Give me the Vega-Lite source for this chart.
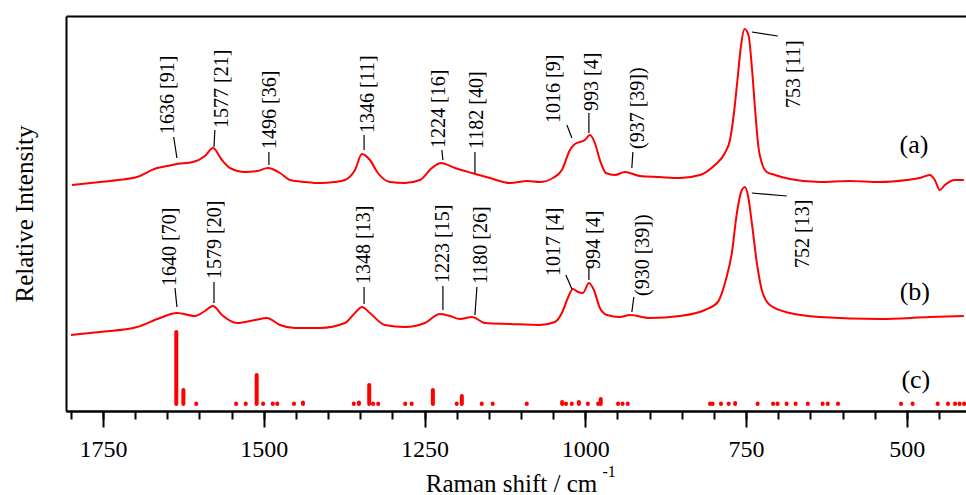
{
  "$schema": "https://vega.github.io/schema/vega-lite/v6.json",
  "width": 900,
  "height": 395,
  "autosize": {"type": "none"},
  "padding": {"left": 66, "top": 16, "right": 0, "bottom": 84},
  "background": "white",
  "config": {
    "view": {"stroke": null},
    "font": "Liberation Serif",
    "axis": {
      "grid": false,
      "domainColor": "black",
      "tickColor": "black",
      "labelColor": "black",
      "titleColor": "black",
      "labelFont": "Liberation Serif",
      "titleFont": "Liberation Serif",
      "titleFontWeight": "normal",
      "domainWidth": 2,
      "tickWidth": 2
    }
  },
  "datasets": {
    "spectra": [
      {"shift": 1798.2, "intensity": 226, "series": "a"},
      {"shift": 1754.7, "intensity": 229, "series": "a"},
      {"shift": 1726.0, "intensity": 231, "series": "a"},
      {"shift": 1697.1, "intensity": 234, "series": "a"},
      {"shift": 1666.0, "intensity": 243, "series": "a"},
      {"shift": 1650.0, "intensity": 245, "series": "a"},
      {"shift": 1634.9, "intensity": 247, "series": "a"},
      {"shift": 1610.1, "intensity": 249, "series": "a"},
      {"shift": 1591.4, "intensity": 255, "series": "a"},
      {"shift": 1579.0, "intensity": 263, "series": "a"},
      {"shift": 1565.0, "intensity": 251, "series": "a"},
      {"shift": 1552.6, "intensity": 243, "series": "a"},
      {"shift": 1529.2, "intensity": 239, "series": "a"},
      {"shift": 1510.0, "intensity": 240, "series": "a"},
      {"shift": 1493.5, "intensity": 243, "series": "a"},
      {"shift": 1474.8, "intensity": 238, "series": "a"},
      {"shift": 1459.3, "intensity": 231, "series": "a"},
      {"shift": 1435.0, "intensity": 229, "series": "a"},
      {"shift": 1412.6, "intensity": 228, "series": "a"},
      {"shift": 1390.0, "intensity": 229, "series": "a"},
      {"shift": 1373.8, "intensity": 231, "series": "a"},
      {"shift": 1358.2, "intensity": 241, "series": "a"},
      {"shift": 1347.3, "intensity": 257, "series": "a"},
      {"shift": 1334.9, "intensity": 251, "series": "a"},
      {"shift": 1322.5, "intensity": 238, "series": "a"},
      {"shift": 1303.8, "intensity": 229, "series": "a"},
      {"shift": 1280.5, "intensity": 228, "series": "a"},
      {"shift": 1257.2, "intensity": 231, "series": "a"},
      {"shift": 1238.5, "intensity": 243, "series": "a"},
      {"shift": 1224.5, "intensity": 248, "series": "a"},
      {"shift": 1202.7, "intensity": 243, "series": "a"},
      {"shift": 1176.3, "intensity": 238, "series": "a"},
      {"shift": 1148.3, "intensity": 233, "series": "a"},
      {"shift": 1117.2, "intensity": 228, "series": "a"},
      {"shift": 1090.0, "intensity": 230, "series": "a"},
      {"shift": 1070.6, "intensity": 229, "series": "a"},
      {"shift": 1050.4, "intensity": 233, "series": "a"},
      {"shift": 1036.4, "intensity": 241, "series": "a"},
      {"shift": 1023.9, "intensity": 261, "series": "a"},
      {"shift": 1016.2, "intensity": 267, "series": "a"},
      {"shift": 1000.6, "intensity": 271, "series": "a"},
      {"shift": 992.9, "intensity": 276, "series": "a"},
      {"shift": 985.1, "intensity": 268, "series": "a"},
      {"shift": 977.3, "intensity": 251, "series": "a"},
      {"shift": 968.0, "intensity": 238, "series": "a"},
      {"shift": 954.0, "intensity": 236, "series": "a"},
      {"shift": 938.4, "intensity": 239, "series": "a"},
      {"shift": 915.1, "intensity": 235, "series": "a"},
      {"shift": 885.0, "intensity": 234, "series": "a"},
      {"shift": 852.9, "intensity": 233, "series": "a"},
      {"shift": 821.8, "intensity": 236, "series": "a"},
      {"shift": 798.5, "intensity": 246, "series": "a"},
      {"shift": 782.9, "intensity": 258, "series": "a"},
      {"shift": 775.0, "intensity": 271, "series": "a"},
      {"shift": 769.6, "intensity": 294, "series": "a"},
      {"shift": 763.4, "intensity": 331, "series": "a"},
      {"shift": 758.1, "intensity": 364, "series": "a"},
      {"shift": 752.5, "intensity": 382, "series": "a"},
      {"shift": 746.3, "intensity": 376, "series": "a"},
      {"shift": 741.0, "intensity": 344, "series": "a"},
      {"shift": 735.9, "intensity": 301, "series": "a"},
      {"shift": 730.8, "intensity": 264, "series": "a"},
      {"shift": 725.5, "intensity": 248, "series": "a"},
      {"shift": 717.7, "intensity": 239, "series": "a"},
      {"shift": 705.2, "intensity": 236, "series": "a"},
      {"shift": 681.9, "intensity": 232, "series": "a"},
      {"shift": 635.3, "intensity": 229, "series": "a"},
      {"shift": 590.0, "intensity": 230, "series": "a"},
      {"shift": 542.0, "intensity": 229, "series": "a"},
      {"shift": 500.0, "intensity": 231, "series": "a"},
      {"shift": 479.8, "intensity": 233, "series": "a"},
      {"shift": 464.3, "intensity": 236, "series": "a"},
      {"shift": 456.5, "intensity": 231, "series": "a"},
      {"shift": 448.7, "intensity": 221, "series": "a"},
      {"shift": 440.9, "intensity": 226, "series": "a"},
      {"shift": 425.4, "intensity": 231, "series": "a"},
      {"shift": 411.4, "intensity": 231, "series": "a"},

      {"shift": 1799.8, "intensity": 76, "series": "b"},
      {"shift": 1754.7, "intensity": 79, "series": "b"},
      {"shift": 1697.1, "intensity": 84, "series": "b"},
      {"shift": 1661.4, "intensity": 93, "series": "b"},
      {"shift": 1634.9, "intensity": 98, "series": "b"},
      {"shift": 1606.9, "intensity": 95, "series": "b"},
      {"shift": 1591.4, "intensity": 100, "series": "b"},
      {"shift": 1579.0, "intensity": 105, "series": "b"},
      {"shift": 1565.0, "intensity": 96, "series": "b"},
      {"shift": 1541.7, "intensity": 88, "series": "b"},
      {"shift": 1513.7, "intensity": 91, "series": "b"},
      {"shift": 1495.0, "intensity": 93, "series": "b"},
      {"shift": 1474.8, "intensity": 86, "series": "b"},
      {"shift": 1451.5, "intensity": 83, "series": "b"},
      {"shift": 1412.6, "intensity": 83, "series": "b"},
      {"shift": 1373.8, "intensity": 88, "series": "b"},
      {"shift": 1358.2, "intensity": 98, "series": "b"},
      {"shift": 1347.3, "intensity": 104, "series": "b"},
      {"shift": 1334.9, "intensity": 98, "series": "b"},
      {"shift": 1311.6, "intensity": 86, "series": "b"},
      {"shift": 1280.5, "intensity": 84, "series": "b"},
      {"shift": 1249.4, "intensity": 88, "series": "b"},
      {"shift": 1226.1, "intensity": 97, "series": "b"},
      {"shift": 1210.5, "intensity": 95, "series": "b"},
      {"shift": 1195.0, "intensity": 92, "series": "b"},
      {"shift": 1176.3, "intensity": 94, "series": "b"},
      {"shift": 1156.1, "intensity": 88, "series": "b"},
      {"shift": 1117.2, "intensity": 87, "series": "b"},
      {"shift": 1070.6, "intensity": 86, "series": "b"},
      {"shift": 1047.3, "intensity": 89, "series": "b"},
      {"shift": 1036.4, "intensity": 98, "series": "b"},
      {"shift": 1027.1, "intensity": 113, "series": "b"},
      {"shift": 1019.3, "intensity": 122, "series": "b"},
      {"shift": 1011.5, "intensity": 119, "series": "b"},
      {"shift": 1003.7, "intensity": 118, "series": "b"},
      {"shift": 994.4, "intensity": 128, "series": "b"},
      {"shift": 986.6, "intensity": 121, "series": "b"},
      {"shift": 977.3, "intensity": 103, "series": "b"},
      {"shift": 966.4, "intensity": 96, "series": "b"},
      {"shift": 946.2, "intensity": 94, "series": "b"},
      {"shift": 930.7, "intensity": 96, "series": "b"},
      {"shift": 899.6, "intensity": 93, "series": "b"},
      {"shift": 852.9, "intensity": 95, "series": "b"},
      {"shift": 814.1, "intensity": 101, "series": "b"},
      {"shift": 793.9, "intensity": 109, "series": "b"},
      {"shift": 781.5, "intensity": 131, "series": "b"},
      {"shift": 772.1, "intensity": 158, "series": "b"},
      {"shift": 764.3, "intensity": 198, "series": "b"},
      {"shift": 756.5, "intensity": 221, "series": "b"},
      {"shift": 751.9, "intensity": 224, "series": "b"},
      {"shift": 747.2, "intensity": 216, "series": "b"},
      {"shift": 741.0, "intensity": 188, "series": "b"},
      {"shift": 733.2, "intensity": 148, "series": "b"},
      {"shift": 725.5, "intensity": 121, "series": "b"},
      {"shift": 713.0, "intensity": 106, "series": "b"},
      {"shift": 681.9, "intensity": 98, "series": "b"},
      {"shift": 635.3, "intensity": 94, "series": "b"},
      {"shift": 542.0, "intensity": 92, "series": "b"},
      {"shift": 464.3, "intensity": 94, "series": "b"},
      {"shift": 411.4, "intensity": 95, "series": "b"}
    ],
    "sticks": [
      {"shift": 1636, "base": 7, "top": 79},
      {"shift": 1625, "base": 7, "top": 21},
      {"shift": 1605, "base": 7, "top": 7.5},
      {"shift": 1543, "base": 7, "top": 7.5},
      {"shift": 1528, "base": 7, "top": 7.5},
      {"shift": 1511, "base": 7, "top": 36},
      {"shift": 1501, "base": 7, "top": 7.5},
      {"shift": 1486, "base": 7, "top": 7.5},
      {"shift": 1479, "base": 7, "top": 7.5},
      {"shift": 1453, "base": 7, "top": 7.5},
      {"shift": 1439, "base": 7, "top": 8.5},
      {"shift": 1360, "base": 7, "top": 7.5},
      {"shift": 1352, "base": 7, "top": 8.5},
      {"shift": 1336, "base": 7, "top": 26},
      {"shift": 1330, "base": 7, "top": 7.5},
      {"shift": 1322, "base": 7, "top": 7.5},
      {"shift": 1280, "base": 7, "top": 7.5},
      {"shift": 1270, "base": 7, "top": 7.5},
      {"shift": 1237, "base": 7, "top": 21},
      {"shift": 1200, "base": 7, "top": 7.5},
      {"shift": 1192, "base": 7, "top": 15},
      {"shift": 1161, "base": 7, "top": 7.5},
      {"shift": 1144, "base": 7, "top": 7.5},
      {"shift": 1091, "base": 7, "top": 7.5},
      {"shift": 1036, "base": 7, "top": 9},
      {"shift": 1030, "base": 7, "top": 7.5},
      {"shift": 1021, "base": 7, "top": 7.5},
      {"shift": 1010, "base": 7, "top": 9},
      {"shift": 996, "base": 7, "top": 7.5},
      {"shift": 980, "base": 7, "top": 7.5},
      {"shift": 976, "base": 7, "top": 12},
      {"shift": 949, "base": 7, "top": 7.5},
      {"shift": 942, "base": 7, "top": 7.5},
      {"shift": 934, "base": 7, "top": 7.5},
      {"shift": 806, "base": 7, "top": 7.5},
      {"shift": 802, "base": 7, "top": 7.5},
      {"shift": 789, "base": 7, "top": 7.5},
      {"shift": 777, "base": 7, "top": 7.5},
      {"shift": 767, "base": 7, "top": 8},
      {"shift": 732, "base": 7, "top": 7.5},
      {"shift": 708, "base": 7, "top": 7.5},
      {"shift": 701, "base": 7, "top": 7.5},
      {"shift": 687, "base": 7, "top": 7.5},
      {"shift": 673, "base": 7, "top": 7.5},
      {"shift": 654, "base": 7, "top": 7.5},
      {"shift": 631, "base": 7, "top": 7.5},
      {"shift": 623, "base": 7, "top": 7.5},
      {"shift": 607, "base": 7, "top": 7.5},
      {"shift": 509, "base": 7, "top": 7.5},
      {"shift": 491, "base": 7, "top": 7.5},
      {"shift": 452, "base": 7, "top": 7.5},
      {"shift": 436, "base": 7, "top": 7.5},
      {"shift": 425, "base": 7, "top": 7.5},
      {"shift": 418, "base": 7, "top": 7.5},
      {"shift": 411, "base": 7, "top": 7.5}
    ],
    "leaders": [
      {"x": 1640, "y": 274, "x2": 1635, "y2": 253},
      {"x": 1576, "y": 281, "x2": 1577.4, "y2": 264},
      {"x": 1492, "y": 259, "x2": 1492, "y2": 246},
      {"x": 1344, "y": 276, "x2": 1344, "y2": 261},
      {"x": 1223, "y": 261, "x2": 1221.4, "y2": 251},
      {"x": 1171.6, "y": 259, "x2": 1171.6, "y2": 238},
      {"x": 1028.6, "y": 286, "x2": 1020.8, "y2": 273},
      {"x": 994.4, "y": 298, "x2": 994.4, "y2": 278},
      {"x": 926, "y": 259, "x2": 927.6, "y2": 243},
      {"x": 741, "y": 379, "x2": 700.6, "y2": 375},
      {"x": 1638, "y": 123, "x2": 1635, "y2": 104},
      {"x": 1577.4, "y": 129, "x2": 1577.4, "y2": 108},
      {"x": 1344, "y": 124, "x2": 1344, "y2": 107},
      {"x": 1221.4, "y": 125, "x2": 1221.4, "y2": 101},
      {"x": 1168.5, "y": 124, "x2": 1171.6, "y2": 96},
      {"x": 1030.2, "y": 136, "x2": 1020.8, "y2": 122},
      {"x": 994.4, "y": 143, "x2": 994.4, "y2": 131},
      {"x": 924.5, "y": 114, "x2": 927.6, "y2": 99},
      {"x": 741, "y": 218, "x2": 686.6, "y2": 215}
    ],
    "labels": [
      {"x": 1649, "y": 277, "text": "1636 [91]"},
      {"x": 1565, "y": 283, "text": "1577 [21]"},
      {"x": 1490, "y": 262, "text": "1496 [36]"},
      {"x": 1338, "y": 278, "text": "1346 [11]"},
      {"x": 1227.6, "y": 263, "text": "1224 [16]"},
      {"x": 1168.5, "y": 262, "text": "1182 [40]"},
      {"x": 1048.8, "y": 288, "text": "1016 [9]"},
      {"x": 989.8, "y": 300, "text": "993 [4]"},
      {"x": 918.2, "y": 262, "text": "(937 [39])"},
      {"x": 675.7, "y": 303, "text": "753 [11]"},
      {"x": 1645.8, "y": 125, "text": "1640 [70]"},
      {"x": 1575.9, "y": 132, "text": "1579 [20]"},
      {"x": 1344.2, "y": 127, "text": "1348 [13]"},
      {"x": 1221.4, "y": 128, "text": "1223 [15]"},
      {"x": 1162.3, "y": 127, "text": "1180 [26]"},
      {"x": 1048.8, "y": 135, "text": "1017 [4]"},
      {"x": 986.6, "y": 142, "text": "994 [4]"},
      {"x": 910.5, "y": 115, "text": "(930 [39])"},
      {"x": 661.7, "y": 143, "text": "752 [13]"}
    ],
    "curveLabels": [
      {"x": 489, "y": 266, "text": "(a)"},
      {"x": 487.6, "y": 119, "text": "(b)"},
      {"x": 486, "y": 31, "text": "(c)"}
    ],
    "superscript": [
      {"x": 963, "y": -66, "text": "-1"}
    ]
  },
  "resolve": {"axis": {"x": "independent", "y": "independent"}},
  "layer": [
    {
      "data": {"name": "spectra"},
      "mark": {"type": "line", "color": "#ff0000", "strokeWidth": 2, "interpolate": "monotone"},
      "encoding": {
        "x": {
          "field": "shift", "type": "quantitative",
          "scale": {"domain": [408, 1807.5], "reverse": true, "nice": false, "zero": false},
          "axis": {
            "orient": "bottom",
            "values": [500, 750, 1000, 1250, 1500, 1750],
            "format": "d",
            "tickSize": 16,
            "labelFont": "Liberation Serif",
            "labelFontSize": 24,
            "labelPadding": 10,
            "labelFlush": false,
            "labelOverlap": false,
            "title": "Raman shift / cm",
            "titleFont": "Liberation Serif",
            "titleFontSize": 25,
            "titleX": 445,
            "titleY": 80,
            "titleAlign": "center",
            "titleBaseline": "alphabetic"
          }
        },
        "y": {
          "field": "intensity", "type": "quantitative",
          "scale": {"domain": [0, 395], "nice": false, "zero": false},
          "axis": {
            "orient": "left",
            "ticks": false,
            "labels": false,
            "title": "Relative Intensity",
            "titleFont": "Liberation Serif",
            "titleFontSize": 25,
            "titleAngle": -90,
            "titleX": -34,
            "titleY": 197.5,
            "titleAlign": "center",
            "titleBaseline": "alphabetic"
          }
        },
        "detail": {"field": "series", "type": "nominal"}
      }
    },
    {
      "data": {"name": "sticks"},
      "mark": {"type": "rule", "color": "#ff0000", "strokeWidth": 4, "strokeCap": "round"},
      "encoding": {
        "x": {
          "field": "shift", "type": "quantitative",
          "scale": {"domain": [408, 1807.5], "reverse": true, "nice": false, "zero": false},
          "axis": {
            "orient": "bottom",
            "values": [450, 500, 550, 600, 650, 700, 750, 800, 850, 900, 950, 1000, 1050, 1100, 1150, 1200, 1250, 1300, 1350, 1400, 1450, 1500, 1550, 1600, 1650, 1700, 1750, 1800],
            "tickSize": 8,
            "labels": false,
            "title": null
          }
        },
        "y": {"field": "base", "type": "quantitative", "axis": null},
        "y2": {"field": "top"}
      }
    },
    {
      "data": {"name": "leaders"},
      "mark": {"type": "rule", "color": "black", "strokeWidth": 1.2},
      "encoding": {
        "x": {
          "field": "x", "type": "quantitative",
          "scale": {"domain": [408, 1807.5], "reverse": true, "nice": false, "zero": false},
          "axis": {"orient": "top", "ticks": false, "labels": false, "title": null}
        },
        "x2": {"field": "x2"},
        "y": {"field": "y", "type": "quantitative", "axis": null},
        "y2": {"field": "y2"}
      }
    },
    {
      "data": {"name": "labels"},
      "mark": {"type": "text", "angle": -90, "align": "left", "baseline": "middle", "fontSize": 20, "font": "Liberation Serif", "color": "black"},
      "encoding": {
        "x": {"field": "x", "type": "quantitative", "axis": null},
        "y": {"field": "y", "type": "quantitative", "axis": null},
        "text": {"field": "text"}
      }
    },
    {
      "data": {"name": "curveLabels"},
      "mark": {"type": "text", "align": "center", "baseline": "middle", "fontSize": 26, "font": "Liberation Serif", "color": "black"},
      "encoding": {
        "x": {"field": "x", "type": "quantitative", "axis": null},
        "y": {"field": "y", "type": "quantitative", "axis": null},
        "text": {"field": "text"}
      }
    },
    {
      "data": {"name": "superscript"},
      "mark": {"type": "text", "align": "center", "baseline": "alphabetic", "fontSize": 16, "font": "Liberation Serif", "color": "black"},
      "encoding": {
        "x": {"field": "x", "type": "quantitative", "axis": null},
        "y": {"field": "y", "type": "quantitative", "axis": null},
        "text": {"field": "text"}
      }
    }
  ]
}
